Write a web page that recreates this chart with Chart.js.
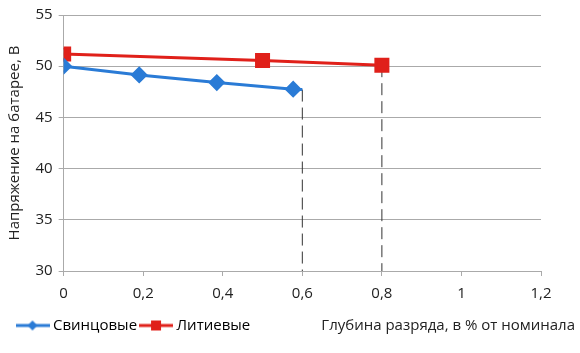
<!DOCTYPE html>
<html>
<head>
<meta charset="utf-8">
<script src="https://cdn.jsdelivr.net/npm/chart.js@4"></script>
<style>
  html, body { margin: 0; padding: 0; background: #fff; }
  #wrap { width: 580px; height: 353px; }
</style>
</head>
<body>
<div id="wrap"><canvas id="myChart" width="580" height="353"></canvas></div>
<script>
// data
const seriesNames = ['Свинцовые', 'Литиевые'];
const leadX = [0, 0.19, 0.385, 0.577, 0.6];
const leadY = [50, 49.15, 48.4, 47.75, 47.72];
const lithX = [0, 0.5, 0.8];
const lithY = [51.2, 50.55, 50.1];
const xTickLabels = ['0', '0,2', '0,4', '0,6', '0,8', '1', '1,2'];
const yTickLabels = ['30', '35', '40', '45', '50', '55'];
const xTitle = 'Глубина разряда, в % от номинала';
const yTitle = 'Напряжение на батарее, В';

const BLUE = '#2a7bd6';
const RED = '#e0201a';
const FONT = "'Open Sans', sans-serif";
const FS = 15;

// legend swatches: line + marker
function swatch(color, shape) {
    const c = document.createElement('canvas');
    c.width = 34; c.height = 14;
    const g = c.getContext('2d');
    g.strokeStyle = color; g.lineWidth = 3;
    g.beginPath(); g.moveTo(0, 7); g.lineTo(34, 7); g.stroke();
    g.fillStyle = color;
    g.beginPath();
    if (shape === 'diamond') {
        g.moveTo(17, 2); g.lineTo(22, 7); g.lineTo(17, 12); g.lineTo(12, 7);
    } else {
        g.rect(12, 2, 10, 10);
    }
    g.closePath(); g.fill();
    return c;
}

const toPts = (xs, ys) => xs.map((x, i) => ({ x: x, y: ys[i] }));
const guideEnds = [
    { x: leadX[leadX.length - 1], y: leadY[leadY.length - 1] },
    { x: lithX[lithX.length - 1], y: lithY[lithY.length - 1] }
];
const yMin = Number(yTickLabels[0]);

const xTitlePlugin = {
    id: 'xTitle',
    afterLayout(chart) {
        chart.legend.left += 8;
    },
    afterDraw(chart) {
        const ctx = chart.ctx;
        const lg = chart.legend;
        ctx.save();
        ctx.font = FS + 'px ' + FONT;
        ctx.fillStyle = '#222';
        ctx.textAlign = 'right';
        ctx.textBaseline = 'middle';
        ctx.fillText(xTitle, chart.width - 5, lg.legendHitBoxes[0].top + lg.legendHitBoxes[0].height / 2);
        ctx.restore();
    }
};

const ctx = document.getElementById('myChart').getContext('2d');
const myChart = new Chart(ctx, {
    type: 'scatter',
    data: {
        datasets: [{
            label: seriesNames[0],
            data: toPts(leadX, leadY),
            showLine: true,
            borderColor: BLUE,
            backgroundColor: BLUE,
            borderWidth: 3,
            pointStyle: 'rectRot',
            pointRadius: c => c.dataIndex < leadX.length - 1 ? 6.5 : 0,
            legendStyle: swatch(BLUE, 'diamond')
        }, {
            label: seriesNames[1],
            data: toPts(lithX, lithY),
            showLine: true,
            borderColor: RED,
            backgroundColor: RED,
            borderWidth: 3,
            pointStyle: 'rect',
            pointRadius: 8.5,
            legendStyle: swatch(RED, 'square')
        }].concat(guideEnds.map(p => ({
            label: '',
            data: [p, { x: p.x, y: yMin }],
            showLine: true,
            borderColor: '#333',
            borderWidth: 1,
            borderDash: [12, 6],
            pointRadius: 0,
            order: 5
        })))
    },
    options: {
        responsive: false,
        animation: false,
        layout: { padding: { top: 12, right: 39, left: 5.5, bottom: 10 } },
        plugins: {
            tooltip: { enabled: false },
            legend: {
                position: 'bottom',
                align: 'start',
                labels: {
                    usePointStyle: true,
                    pointStyleWidth: 26,
                    boxHeight: 14,
                    padding: 6,
                    color: '#222',
                    font: { family: FONT, size: FS },
                    generateLabels(chart) {
                        return chart.data.datasets.slice(0, 2).map((ds, i) => ({
                            text: ds.label,
                            pointStyle: ds.legendStyle,
                            fillStyle: ds.borderColor,
                            strokeStyle: ds.borderColor,
                            lineWidth: 0,
                            datasetIndex: i
                        }));
                    }
                }
            }
        },
        scales: {
            x: {
                type: 'linear',
                min: 0,
                max: 1.2,
                ticks: {
                    stepSize: 0.2,
                    color: '#222',
                    font: { family: FONT, size: FS },
                    padding: 9,
                    callback: (v, i) => xTickLabels[i]
                },
                grid: {
                    drawOnChartArea: false,
                    drawTicks: true,
                    tickLength: 5,
                    color: '#aaa'
                },
                border: { color: '#aaa' }
            },
            y: {
                min: 30,
                max: 55,
                ticks: {
                    stepSize: 5,
                    color: '#222',
                    font: { family: FONT, size: FS },
                    padding: 6,
                    callback: (v, i) => yTickLabels[i]
                },
                grid: { color: '#aaa', tickLength: 5 },
                border: { color: '#aaa' },
                title: {
                    display: true,
                    text: yTitle,
                    color: '#222',
                    font: { family: FONT, size: FS },
                    padding: { top: 0, bottom: 6 }
                }
            }
        }
    },
    plugins: [xTitlePlugin]
});
</script>
</body>
</html>
